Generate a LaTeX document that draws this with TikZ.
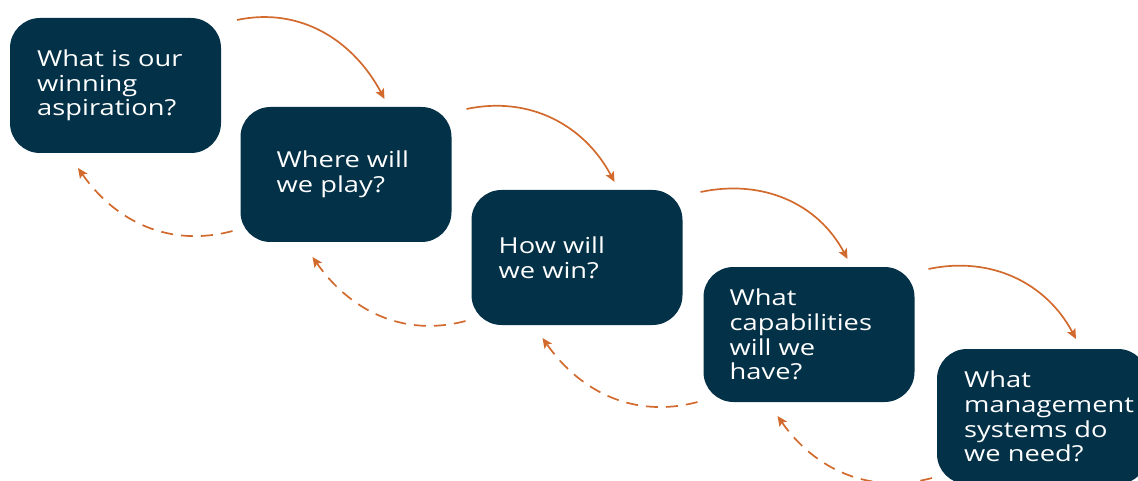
\documentclass[tikz,border=0pt]{standalone}
\usepackage{fontspec}
\setmainfont[FakeStretch=1.24]{Open Sans}
\usetikzlibrary{arrows.meta,positioning}
\definecolor{boxnavy}{RGB}{3,49,71}
\definecolor{loop}{RGB}{210,106,46}

\begin{document}
\begin{tikzpicture}[x=1pt,y=1pt,
    qbox/.style={fill=boxnavy, rounded corners=30pt, minimum width=211pt, minimum height=135pt, inner sep=0pt, outer sep=0pt},
    qtext/.style={text=white, align=left, inner sep=0pt, font=\fontsize{22}{24.7}\selectfont},
    fwd/.style={draw=loop, line width=1.7pt, -{Stealth[length=10pt, width=9pt, inset=2pt]}},
    back/.style={fwd, dash pattern=on 12pt off 8pt}]
        \useasboundingbox (0,0) rectangle (1138,-481);
        % the five question boxes
        \node[qbox] (b1) at (115.5,-85.5) {};
        \node[qbox] (b2) at (346,-174.5) {};
        \node[qbox] (b3) at (577,-257.5) {};
        \node[qbox] (b4) at (809,-334.5) {};
        \node[qbox] (b5) at (1042.5,-416.5) {};
        % texts
        \node[qtext, right=27pt of b1.west] (t1) {What is our\\winning\\aspiration?};
        \node[qtext, right=36pt of b2.west] (t2) {Where will\\we play?};
        \node[qtext, right=27pt of b3.west] (t3) {How will\\we win?};
        \node[qtext, right=26pt of b4.west] (t4) {What\\capabilities\\will we\\have?};
        \node[qtext, right=27pt of b5.west] (t5) {What\\management\\systems do\\we need?};
        % forward arcs
        \draw[fwd] ([shift={(16pt,-2pt)}]b1.north east) to[out=12, in=118] ([shift={(144pt,8pt)}]b2.north west);
        \draw[fwd] ([shift={(15pt,-2pt)}]b2.north east) to[out=12, in=118] ([shift={(143pt,8pt)}]b3.north west);
        \draw[fwd] ([shift={(18pt,-2pt)}]b3.north east) to[out=12, in=118] ([shift={(144pt,8pt)}]b4.north west);
        \draw[fwd] ([shift={(14pt,-2pt)}]b4.north east) to[out=12, in=118] ([shift={(139pt,10pt)}]b5.north west);
        % dashed return arcs
        \draw[back] ([shift={(-8pt,11pt)}]b2.south west) to[out=195, in=-55] ([shift={(68pt,-15pt)}]b1.south west);
        \draw[back] ([shift={(-6pt,4pt)}]b3.south west) to[out=195, in=-55] ([shift={(72pt,-15pt)}]b2.south west);
        \draw[back] ([shift={(-6pt,0pt)}]b4.south west) to[out=195, in=-55] ([shift={(71pt,-13pt)}]b3.south west);
        \draw[back] ([shift={(-5pt,6pt)}]b5.south west) to[out=195, in=-55] ([shift={(74pt,-14pt)}]b4.south west);
\end{tikzpicture}
\end{document}
